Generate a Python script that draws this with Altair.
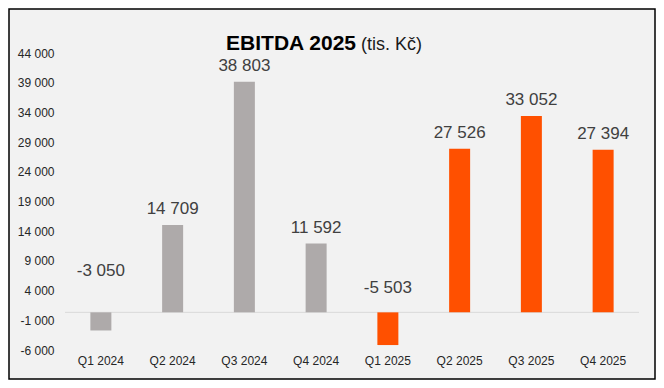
import altair as alt
import pandas as pd

quarters = ["Q1 2024", "Q2 2024", "Q3 2024", "Q4 2024",
            "Q1 2025", "Q2 2025", "Q3 2025", "Q4 2025"]
ebitda = [-3050, 14709, 38803, 11592, -5503, 27526, 33052, 27394]
year = ["2024", "2024", "2024", "2024", "2025", "2025", "2025", "2025"]
y_ticks = [-6000, -1000, 4000, 9000, 14000, 19000, 24000, 29000, 34000, 39000, 44000]

df = pd.DataFrame({"quarter": quarters, "value": ebitda, "year": year})
one = pd.DataFrame({"k": [0]})

FONT = "Liberation Sans"
W, H = 574, 297
PL, PT, PR, PB = 57, 43, 17, 32

x_scale = alt.Scale(paddingInner=0, paddingOuter=0)
x_axis = alt.Axis(title=None, labelAngle=0, ticks=False, domain=False, grid=False,
                  labelPadding=7, labelFontSize=12, labelColor="#262626",
                  labelFont=FONT, zindex=2, labelOverlap=False)
y_scale = alt.Scale(domain=[-6000, 44000], nice=False, zero=False)
y_axis = alt.Axis(title=None, values=y_ticks, format=",d", ticks=False, domain=False,
                  grid=False, labelPadding=11, labelOffset=2, labelFontSize=12,
                  labelColor="#262626", labelFont=FONT, zindex=2, labelOverlap=False)

x = alt.X("quarter:N", sort=quarters, scale=x_scale, axis=x_axis)
y = alt.Y("value:Q", scale=y_scale, axis=y_axis)
y0 = alt.Y("zero:Q", scale=y_scale, axis=y_axis)

frame = alt.Chart(one).mark_rect(fill="#f2f2f2", stroke="#000000", strokeWidth=1.5).encode(
    x=alt.value(-PL + 1), x2=alt.value(W + PR - 1),
    y=alt.value(-PT + 1), y2=alt.value(H + PB - 1))

base = alt.Chart(df).transform_calculate(zero="0")

zero_rule = base.transform_filter("datum.quarter == 'Q1 2024'").mark_rule(
    color="#d9d9d9", strokeWidth=1).encode(y=y0)

bars = base.mark_bar(size=21).encode(
    x=x, y=y, y2="zero:Q",
    color=alt.Color("year:N", scale=alt.Scale(domain=["2024", "2025"],
                                              range=["#aeaaaa", "#ff5000"]), legend=None))

txt_style = dict(baseline="alphabetic", fontSize=17, color="#404040", font=FONT)

pos_labels = base.transform_filter("datum.value >= 0").mark_text(dy=-11, **txt_style).encode(
    x=x, y=y, text=alt.Text("value:Q", format=",d"))

neg1 = base.transform_filter("datum.quarter == 'Q1 2024'").mark_text(dy=-36, **txt_style).encode(
    x=x, y=y0, text=alt.Text("value:Q", format=",d"))

neg2 = base.transform_filter("datum.quarter == 'Q1 2025'").mark_text(dy=-19, **txt_style).encode(
    x=x, y=y0, text=alt.Text("value:Q", format=",d"))

title_bold = alt.Chart(one).mark_text(text="EBITDA 2025", align="right", baseline="alphabetic",
                                      fontSize=21, fontWeight="bold", font=FONT,
                                      color="#000000").encode(
    x=alt.value(291), y=alt.value(-1))
title_norm = alt.Chart(one).mark_text(text="(tis. Kč)", align="left", baseline="alphabetic",
                                      fontSize=18, font=FONT, color="#1a1a1a").encode(
    x=alt.value(296), y=alt.value(-1))

chart = alt.layer(frame, zero_rule, bars, pos_labels, neg1, neg2, title_bold, title_norm).properties(
    width=W, height=H,
    padding={"left": PL, "top": PT, "right": PR, "bottom": PB},
    autosize=alt.AutoSizeParams(type="none"),
    background="white",
).configure(
    locale={"number": {"decimal": ".", "thousands": " ", "grouping": [3],
                       "currency": ["", ""], "minus": "-"}}
).configure_view(strokeWidth=0)

chart.save("out.html", embed_options={"renderer": "svg", "actions": False})
